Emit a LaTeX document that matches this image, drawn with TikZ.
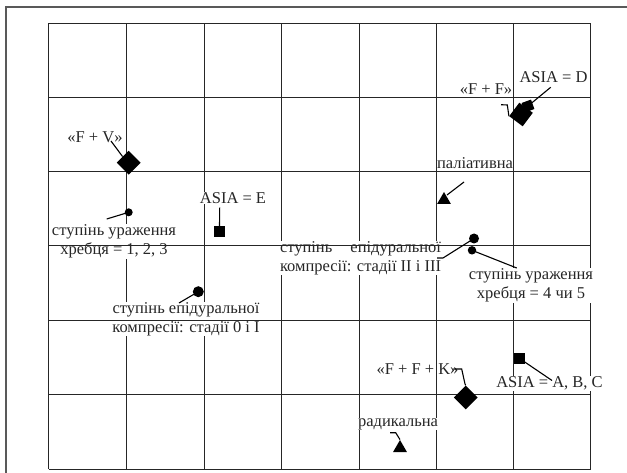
\documentclass[tikz,border=0pt]{standalone}
\usepackage{fontspec}
\usepackage{calc}
\setmainfont{Liberation Serif}
\usetikzlibrary{shapes.geometric}
\newcommand\mylineII{компресії: стадії II і III}
\begin{document}
\begin{tikzpicture}[x=1pt,y=-1pt,
  frameline/.style={line width=1.3pt, draw=black!65},
  gridline/.style={line width=1pt, draw=black!85},
  lbl/.style={font=\fontsize{16.5}{19}\selectfont, inner sep=0.5pt, align=center, text=black!85},
  wlbl/.style={lbl, fill=white},
  dia/.style={diamond, fill=black, minimum size=24pt, inner sep=0pt},
  dot/.style={circle, fill=black, minimum size=9pt, inner sep=0pt},
  sq/.style={rectangle, fill=black, minimum size=11pt, inner sep=0pt},
  tri/.style={regular polygon, regular polygon sides=3, fill=black, minimum size=16pt, inner sep=0pt},
  lead/.style={line width=1.1pt, draw=black}]
\useasboundingbox (0,0) rectangle (627,473);
% frame
\coordinate (fbl) at (6,473);
\coordinate (ftl) at (6,7);
\coordinate (ftr) at (627,7);
\draw[frameline] (fbl) -- (ftl) -- (ftr);
% grid verticals
\foreach \x in {48.7,126,204,281.5,359,436,513.3,590.7}
  \draw[gridline] (\x,23.3) -- (\x,469);
% labels
\node[lbl] (lFV) at (95,137) {«F + V»};
\node[lbl] (lFF) at (486,89) {«F + F»};
\node[lbl] (lASD) at (553.5,77) {ASIA = D};
\node[lbl] (lpal) at (475,163) {паліативна};
\node[wlbl] (lASE) at (233,198) {ASIA = E};
\node[wlbl] (l123) at (114,241.5) {ступінь ураження\\хребця = 1, 2, 3};
\node[wlbl] (l23) at (360.5,258) {\makebox[\widthof{\mylineII}][s]{ступінь епідуральної}\\\mylineII};
\node[wlbl] (l45) at (531,285.5) {ступінь ураження\\хребця = 4 чи 5};
\node[wlbl] (l0I) at (186,319) {ступінь епідуральної\\компресії: стадії 0 і I};
\node[lbl] (lFFK) at (417.5,369.3) {«F + F + K»};
\node[wlbl] (lrad) at (398,424.3) {радикальна};
\node[wlbl] (lABC) at (549.5,383.3) {ASIA = A, B, C};
% grid horizontals
\foreach \y in {23.3,98,172,246,320.5,394.8,469}
  \draw[gridline] (48.7,\y) -- (590.7,\y);
% markers
\node[dia] (mFV) at (128.7,162.7) {};
\node[dot, minimum size=8pt] (m123) at (128.7,212.3) {};
\node[sq] (mE) at (219.5,232) {};
\node[dot, minimum size=11pt] (m0I) at (198.3,291.7) {};
\node[tri] (mpal) at (444,200) {};
\node[dot, minimum size=10pt] (m23) at (474,238.5) {};
\node[dot, minimum size=8.5pt] (m45) at (472,250.3) {};
\node[dia, rotate=8] (mFF) at (521,114.5) {};
\node[sq, minimum size=10pt, rotate=20] (mD) at (528,106) {};
\node[sq] (mABC) at (519.6,358.5) {};
\node[dia] (mFFK) at (465.7,397.5) {};
\node[tri] (mrad) at (400,448) {};
% leader end points
\coordinate (cFV) at (111,141);
\coordinate (c123) at (106.7,219);
\coordinate (cE) at (219.7,207.7);
\coordinate (c0I) at (179,303);
\coordinate (cpal) at (464,182);
\coordinate (cpalE) at (447,195);
\coordinate (c23a) at (443,258);
\coordinate (c23b) at (437,258);
\coordinate (c45) at (516.7,268);
\coordinate (cFFa) at (501,104.7);
\coordinate (cFFb) at (507.3,105);
\coordinate (cD) at (550.7,87.3);
\coordinate (cABC) at (552,380.5);
\coordinate (cFFKa) at (453.3,369);
\coordinate (cFFKb) at (461.7,369);
\coordinate (cFFKc) at (465,384);
\coordinate (crada) at (390,432.7);
\coordinate (cradb) at (395.7,432.7);
% leaders
\draw[lead] (cFV) -- (mFV.north west);
\draw[lead] (m123.center) -- (c123);
\draw[lead] (cE) -- (mE.north);
\draw[lead] (m0I.center) -- (c0I);
\draw[lead] (cpal) -- (cpalE);
\draw[lead] (m23.center) -- (c23a) -- (c23b);
\draw[lead] (m45.center) -- (c45);
\draw[lead] (cFFa) -- (cFFb) -- (mFF.west);
\draw[lead] (cD) -- (mD.center);
\draw[lead] (mABC.center) -- (cABC);
\draw[lead] (cFFKa) -- (cFFKb) -- (cFFKc) -- (mFFK.north);
\draw[lead] (crada) -- (cradb) -- (mrad.north);
\end{tikzpicture}
\end{document}
